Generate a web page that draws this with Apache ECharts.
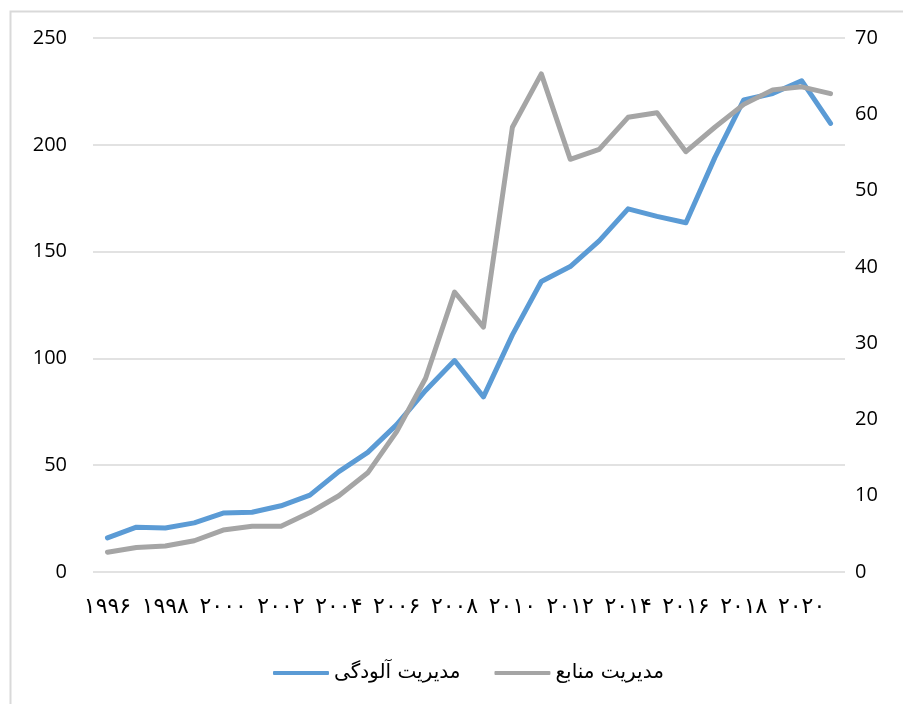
<!DOCTYPE html>
<html><head><meta charset="utf-8">
<script src="https://cdn.jsdelivr.net/npm/echarts@6/dist/echarts.min.js"></script>
<style>html,body{margin:0;padding:0;background:#fff}#c{width:903px;height:704px}</style>
</head><body><div id="c"></div>
<script>
const years = ['۱۹۹۶','۱۹۹۷','۱۹۹۸','۱۹۹۹','۲۰۰۰','۲۰۰۱','۲۰۰۲','۲۰۰۳','۲۰۰۴','۲۰۰۵','۲۰۰۶','۲۰۰۷','۲۰۰۸','۲۰۰۹','۲۰۱۰','۲۰۱۱','۲۰۱۲','۲۰۱۳','۲۰۱۴','۲۰۱۵','۲۰۱۶','۲۰۱۷','۲۰۱۸','۲۰۱۹','۲۰۲۰','۲۰۲۱'];
const pollutionName = 'مدیریت آلودگی';
const resourceName = 'مدیریت منابع';
const pollution = [16,21,20.6,23,27.6,28,31,36,47,56,69,85,99,82,111,136,143,155,170,166.5,163.5,194,221,224,230,210];
const resources = [2.6,3.2,3.4,4.1,5.5,6.0,6.0,7.8,10.0,13.0,18.4,25.4,36.7,32.1,58.3,65.3,54.1,55.4,59.6,60.2,55.1,58.3,61.3,63.2,63.6,62.7];
const leftTicks = {min:0,max:250,interval:50};
const rightTicks = {min:0,max:70,interval:10};

const chart = echarts.init(document.getElementById('c'));
const font = '"DejaVu Sans", "Liberation Sans", sans-serif';
chart.setOption({
  animation:false,
  graphic:[{type:'rect',left:8,top:9,shape:{width:1000,height:800},
    style:{fill:'none',stroke:'#D9D9D9',lineWidth:2},silent:true}],
  grid:{left:93,right:58,top:38,bottom:132},
  legend:{bottom:16,left:268,itemWidth:56,itemHeight:4,itemGap:34,icon:'roundRect',
    textStyle:{fontFamily:font,fontSize:20,color:'#000'},
    data:[pollutionName,resourceName]},
  xAxis:{type:'category',data:years,boundaryGap:true,
    axisLine:{show:false},axisTick:{show:false},
    axisLabel:{interval:1,fontFamily:font,fontSize:22,color:'#000',margin:24}},
  yAxis:[
    {type:'value',min:leftTicks.min,max:leftTicks.max,interval:leftTicks.interval,
      axisLine:{show:false},axisTick:{show:false},
      splitLine:{lineStyle:{color:'#D9D9D9',width:1.5}},
      axisLabel:{fontFamily:'"Open Sans", "Liberation Sans", sans-serif',fontSize:20,color:'#000',margin:26}},
    {type:'value',min:rightTicks.min,max:rightTicks.max,interval:rightTicks.interval,position:'right',
      axisLine:{show:false},axisTick:{show:false},splitLine:{show:false},
      axisLabel:{fontFamily:'"Open Sans", "Liberation Sans", sans-serif',fontSize:20,color:'#000',margin:10}}
  ],
  series:[
    {name:pollutionName,type:'line',yAxisIndex:0,data:pollution,showSymbol:false,
      lineStyle:{color:'#5B9BD5',width:5,cap:'round',join:'round'},itemStyle:{color:'#5B9BD5'}},
    {name:resourceName,type:'line',yAxisIndex:1,data:resources,showSymbol:false,
      lineStyle:{color:'#A5A5A5',width:5,cap:'round',join:'round'},itemStyle:{color:'#A5A5A5'}}
  ]
});
</script></body></html>
